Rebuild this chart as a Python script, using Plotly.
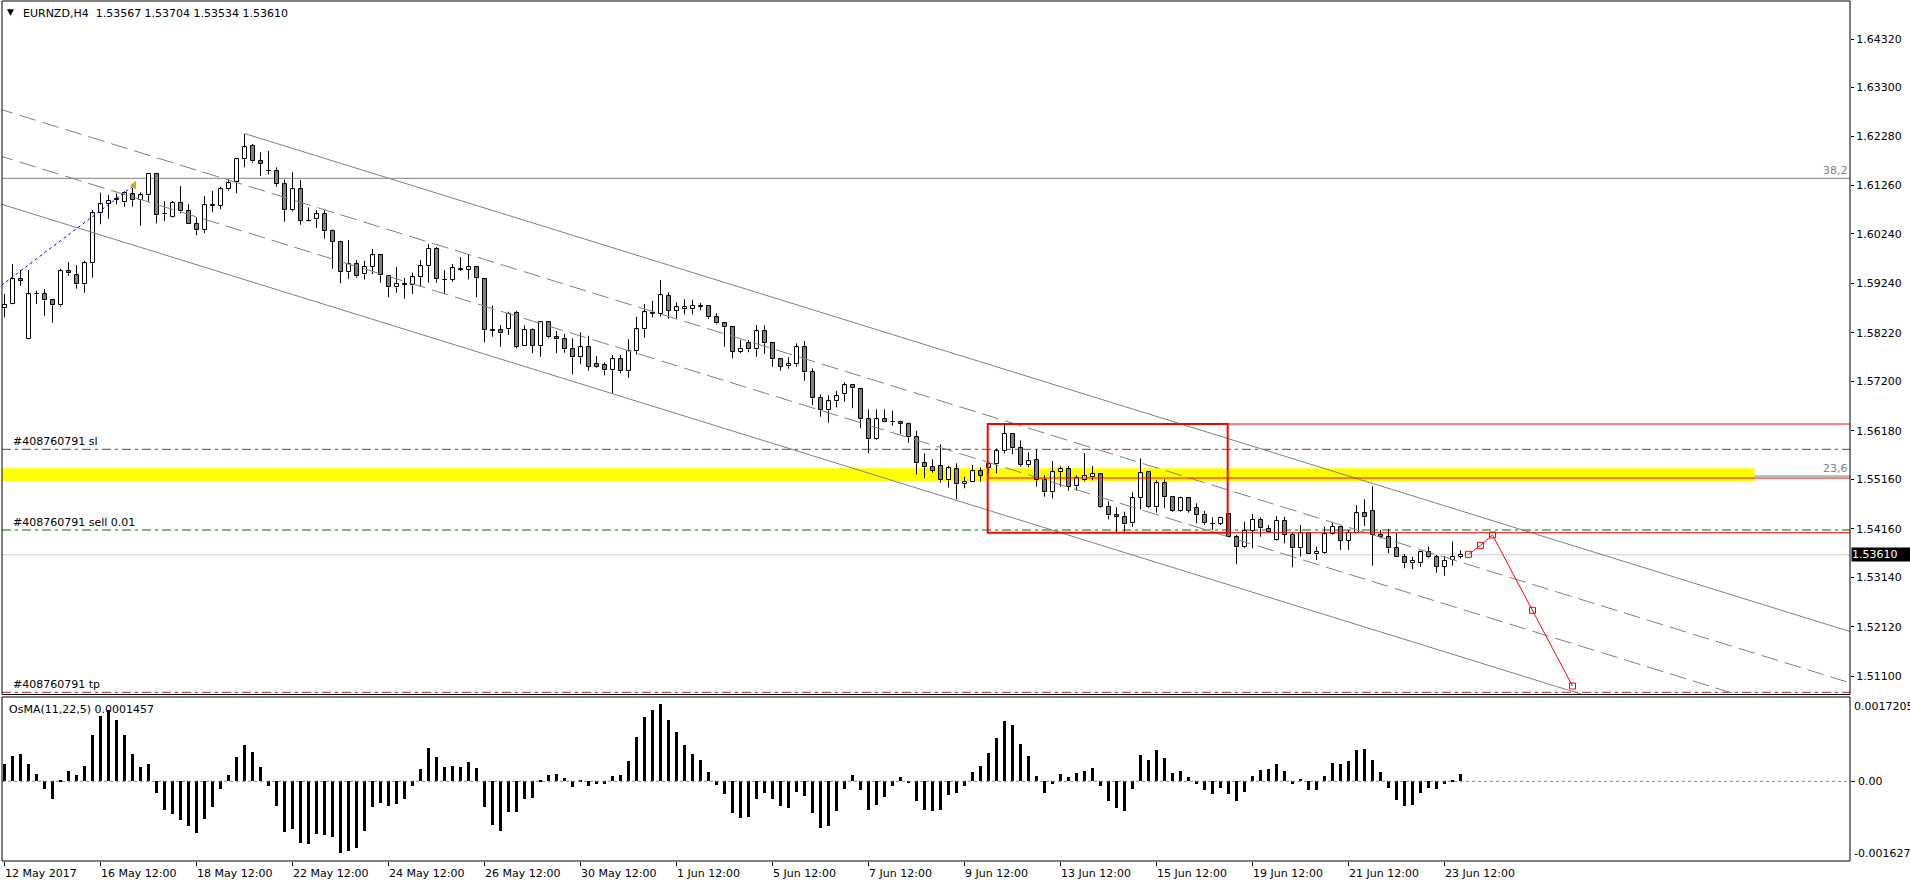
import plotly.graph_objects as go

# ---------------- data ----------------
candle_open = [1.58724,1.58807,1.59326,1.58081,1.59015,1.59015,1.58890,1.58787,1.59493,1.59409,
1.59223,1.59659,1.60697,1.60883,1.60987,1.60925,1.61091,1.60966,1.61070,1.61513,
1.60690,1.60627,1.60911,1.60738,1.60468,1.60344,1.60863,1.60849,1.61195,1.61340,
1.61818,1.62094,1.61776,1.61580,1.61569,1.61299,1.60759,1.61195,1.60544,1.60572,
1.60676,1.60323,1.60095,1.59472,1.59638,1.59430,1.59589,1.59825,1.59396,1.59160,
1.59223,1.59202,1.59368,1.59596,1.59956,1.59320,1.59313,1.59534,1.59520,1.59576,
1.59326,1.58268,1.58268,1.58288,1.58627,1.57942,1.58268,1.57936,1.58434,1.58122,
1.58081,1.57873,1.57707,1.57915,1.57562,1.57541,1.57437,1.57666,1.57417,1.57832,
1.58288,1.58613,1.58613,1.58981,1.58676,1.58704,1.58704,1.58766,1.58773,1.58538,
1.58413,1.58330,1.57825,1.57998,1.57873,1.58247,1.57998,1.57666,1.57520,1.57562,
1.57915,1.57396,1.56856,1.56607,1.56794,1.56939,1.57126,1.57043,1.56420,1.56005,
1.56420,1.56365,1.56358,1.56316,1.56047,1.55507,1.55424,1.55445,1.55154,1.55382,
1.55071,1.55112,1.55341,1.55403,1.55486,1.55756,1.56116,1.55818,1.55465,1.55569,
1.55154,1.54905,1.55320,1.55382,1.55029,1.55154,1.55216,1.55278,1.54607,1.54427,
1.54386,1.54261,1.54780,1.55320,1.54594,1.55092,1.54801,1.54524,1.54781,1.54573,
1.54435,1.54255,1.54248,1.54448,1.53971,1.53763,1.54109,1.54331,1.54144,1.53916,
1.54310,1.54019,1.53743,1.54054,1.53618,1.53639,1.54033,1.54192,1.53902,1.54068,
1.54469,1.54524,1.54019,1.53971,1.53743,1.53570,1.53431,1.53431,1.53660,1.53556,
1.53362,1.53500,1.53567]
candle_high = [1.59022,1.59645,1.59520,1.59520,1.59091,1.59126,1.58895,1.59548,1.59686,1.59624,
1.59714,1.60766,1.61126,1.61077,1.61112,1.61153,1.61229,1.61133,1.61527,1.61540,
1.60946,1.60953,1.61264,1.60883,1.60614,1.61056,1.61160,1.61250,1.61402,1.61838,
1.62344,1.62136,1.61963,1.61991,1.61652,1.61402,1.61548,1.61389,1.60821,1.60766,
1.60766,1.60364,1.60129,1.60143,1.59728,1.59714,1.59956,1.59845,1.59400,1.59583,
1.59354,1.59465,1.59728,1.60060,1.59998,1.59520,1.59645,1.59790,1.59845,1.59596,
1.59347,1.58780,1.58378,1.58655,1.58676,1.58371,1.58309,1.58461,1.58448,1.58254,
1.58192,1.58102,1.58226,1.58157,1.57735,1.57603,1.57756,1.57756,1.58081,1.58551,
1.58814,1.58884,1.59313,1.59057,1.58849,1.58911,1.58904,1.58835,1.58787,1.58621,
1.58427,1.58344,1.58067,1.58067,1.58378,1.58371,1.58012,1.57693,1.57707,1.57998,
1.58046,1.57479,1.56939,1.56918,1.57015,1.57188,1.57130,1.57064,1.56628,1.56628,
1.56628,1.56600,1.56393,1.56351,1.56185,1.55714,1.55590,1.55901,1.55451,1.55507,
1.55230,1.55472,1.55424,1.55507,1.55811,1.56310,1.56137,1.55984,1.55735,1.55797,
1.55258,1.55555,1.55445,1.55451,1.55258,1.55721,1.55451,1.55299,1.54718,1.54593,
1.54503,1.54905,1.55611,1.55341,1.55161,1.55175,1.54815,1.54815,1.54794,1.54677,
1.54518,1.54386,1.54400,1.54469,1.54019,1.54296,1.54455,1.54386,1.54227,1.54414,
1.54400,1.54068,1.54227,1.54068,1.53777,1.54192,1.54275,1.54206,1.54123,1.54642,
1.54760,1.55037,1.54123,1.54137,1.54054,1.53625,1.53570,1.53694,1.53777,1.53604,
1.53583,1.53881,1.53704]
candle_low = [1.58538,1.58800,1.59195,1.58075,1.58814,1.58572,1.58427,1.58759,1.59403,1.59133,
1.59050,1.59361,1.60468,1.60586,1.60883,1.60835,1.60835,1.60441,1.60939,1.60489,
1.60537,1.60614,1.60697,1.60465,1.60240,1.60281,1.60717,1.60780,1.61167,1.61112,
1.61652,1.61748,1.61472,1.61506,1.61250,1.60524,1.60731,1.60461,1.60530,1.60392,
1.60171,1.59548,1.59243,1.59340,1.59361,1.59326,1.59437,1.59257,1.58953,1.59050,
1.58925,1.59022,1.59174,1.59257,1.59257,1.59022,1.59278,1.59499,1.59326,1.58953,
1.58019,1.58136,1.57929,1.58171,1.57894,1.57940,1.57790,1.57721,1.58102,1.57790,
1.57804,1.57354,1.57562,1.57430,1.57493,1.57334,1.56960,1.57375,1.57285,1.57769,
1.58116,1.58538,1.58551,1.58510,1.58510,1.58600,1.58600,1.58690,1.58503,1.58392,
1.57929,1.57686,1.57790,1.57811,1.57721,1.57776,1.57513,1.57431,1.57472,1.57514,
1.57223,1.56718,1.56476,1.56351,1.56669,1.56787,1.56649,1.56233,1.55714,1.55991,
1.56355,1.56289,1.56116,1.55936,1.55278,1.55195,1.55313,1.55105,1.55002,1.54759,
1.54988,1.55110,1.55126,1.55299,1.55299,1.55714,1.55694,1.55438,1.55424,1.55022,
1.54815,1.54780,1.55022,1.54939,1.54939,1.55133,1.55154,1.54587,1.54344,1.54088,
1.54088,1.54192,1.54552,1.54573,1.54483,1.54573,1.54504,1.54504,1.54483,1.54262,
1.54227,1.54123,1.54227,1.53965,1.53410,1.53743,1.53743,1.53985,1.54068,1.53902,
1.53846,1.53348,1.53570,1.53615,1.53500,1.53625,1.54019,1.53708,1.53708,1.54054,
1.54206,1.53383,1.53950,1.53639,1.53556,1.53327,1.53307,1.53362,1.53535,1.53238,
1.53175,1.53383,1.53534]
candle_close = [1.58794,1.59326,1.59299,1.59015,1.59022,1.58890,1.58787,1.59493,1.59451,1.59223,
1.59659,1.60697,1.60883,1.60946,1.60973,1.61112,1.60966,1.61070,1.61513,1.60655,
1.60676,1.60911,1.60738,1.60468,1.60344,1.60863,1.60849,1.61195,1.61319,1.61818,
1.62067,1.61776,1.61721,1.61575,1.61299,1.60759,1.61195,1.60537,1.60537,1.60676,
1.60323,1.60101,1.59472,1.59638,1.59389,1.59589,1.59825,1.59409,1.59160,1.59223,
1.59216,1.59368,1.59596,1.59956,1.59326,1.59313,1.59555,1.59520,1.59576,1.59354,
1.58268,1.58261,1.58205,1.58607,1.57929,1.58268,1.57942,1.58434,1.58122,1.58081,
1.57873,1.57707,1.57915,1.57513,1.57513,1.57437,1.57666,1.57417,1.57832,1.58288,
1.58641,1.58620,1.58994,1.58676,1.58745,1.58745,1.58773,1.58759,1.58538,1.58413,
1.58330,1.57825,1.57880,1.57873,1.58247,1.57998,1.57666,1.57514,1.57562,1.57915,
1.57396,1.56856,1.56607,1.56794,1.56898,1.57126,1.57064,1.56420,1.56005,1.56420,
1.56358,1.56358,1.56316,1.56047,1.55507,1.55424,1.55355,1.55154,1.55403,1.55071,
1.55112,1.55341,1.55244,1.55486,1.55756,1.56116,1.55818,1.55465,1.55548,1.55154,
1.54905,1.55320,1.55382,1.55022,1.55195,1.55237,1.55278,1.54607,1.54427,1.54386,
1.54240,1.54780,1.55299,1.54593,1.55092,1.54801,1.54524,1.54781,1.54524,1.54435,
1.54262,1.54248,1.54372,1.53971,1.53763,1.54109,1.54331,1.54158,1.54089,1.54310,
1.54019,1.53743,1.54054,1.53618,1.53673,1.54033,1.54192,1.53902,1.54068,1.54469,
1.54386,1.54019,1.53971,1.53743,1.53570,1.53431,1.53487,1.53660,1.53556,1.53362,
1.53487,1.53570,1.53610]

osma_values = [0.000356,0.000520,0.000561,0.000356,0.000151,-0.000151,-0.000356,0.000030,0.000212,0.000130,
0.000315,0.000952,0.001342,0.001451,0.001260,0.000952,0.000561,0.000301,0.000356,-0.000233,
-0.000582,-0.000664,-0.000787,-0.000911,-0.001054,-0.000767,-0.000520,-0.000151,0.000130,0.000486,
0.000746,0.000589,0.000301,-0.000096,-0.000500,-0.001034,-0.000972,-0.001260,-0.001280,-0.001075,
-0.001102,-0.001136,-0.001465,-0.001424,-0.001362,-0.001020,-0.000520,-0.000445,-0.000500,-0.000459,
-0.000356,-0.000096,0.000253,0.000685,0.000486,0.000301,0.000315,0.000301,0.000397,0.000274,
-0.000520,-0.000890,-0.001013,-0.000623,-0.000623,-0.000356,-0.000335,0.000027,0.000130,0.000151,
0.000068,-0.000110,0.000020,-0.000103,-0.000048,-0.000062,0.000110,0.000130,0.000418,0.000897,
0.001321,0.001451,0.001568,0.001260,0.001000,0.000746,0.000561,0.000438,0.000192,-0.000068,
-0.000253,-0.000644,-0.000746,-0.000736,-0.000356,-0.000233,-0.000363,-0.000500,-0.000541,-0.000212,
-0.000294,-0.000644,-0.000952,-0.000917,-0.000609,-0.000157,0.000130,-0.000178,-0.000589,-0.000479,
-0.000315,-0.000089,0.000089,-0.000027,-0.000404,-0.000589,-0.000602,-0.000582,-0.000274,-0.000240,
-0.000089,0.000192,0.000315,0.000582,0.000890,0.001225,0.001157,0.000767,0.000520,0.000110,
-0.000233,-0.000055,0.000151,0.000089,0.000171,0.000212,0.000274,-0.000089,-0.000397,-0.000541,
-0.000602,-0.000157,0.000541,0.000438,0.000644,0.000479,0.000171,0.000212,0.000089,-0.000048,
-0.000178,-0.000260,-0.000130,-0.000260,-0.000397,-0.000212,0.000110,0.000233,0.000253,0.000356,
0.000212,-0.000048,0.000048,-0.000171,-0.000178,0.000110,0.000377,0.000356,0.000418,0.000644,
0.000664,0.000438,0.000192,-0.000130,-0.000377,-0.000500,-0.000479,-0.000233,-0.000130,-0.000157,
-0.000055,0.000027,0.0001457]

x_tick_index = [0, 12, 24, 36, 48, 60, 72, 84, 96, 108, 120, 132, 144, 156, 168, 180]
x_tick_labels = ["12 May 2017", "16 May 12:00", "18 May 12:00", "22 May 12:00", "24 May 12:00",
                 "26 May 12:00", "30 May 12:00", "1 Jun 12:00", "5 Jun 12:00", "7 Jun 12:00",
                 "9 Jun 12:00", "13 Jun 12:00", "15 Jun 12:00", "19 Jun 12:00", "21 Jun 12:00",
                 "23 Jun 12:00"]

y_tick_values = [1.64310, 1.63313, 1.62302, 1.61279, 1.60270, 1.59244, 1.58219, 1.57210,
                 1.56184, 1.55175, 1.54150, 1.53141, 1.52115, 1.51092]
y_tick_labels = ["1.64320", "1.63300", "1.62280", "1.61260", "1.60240", "1.59240", "1.58220",
                 "1.57200", "1.56180", "1.55160", "1.54160", "1.53140", "1.52120", "1.51100"]

price_range = [1.50708, 1.65105]
osma_range = [-0.001627, 0.0017205]

fib_382 = 1.61424
fib_236 = 1.55244
zone_low, zone_high, zone_end = 1.55140, 1.55404, 218.75
order_sl, order_open, order_tp = 1.55798, 1.54123, 1.50753
last_price = 1.53610
box_x = [122.9, 152.9]
box_y = [1.54067, 1.56323]
box_mid = 1.55202

upper_channel_x, upper_channel_y = [30, 231], [1.62354, 1.51999]
mid1_channel_x, mid1_channel_y = [-1, 231], [1.62882, 1.50934]
mid2_channel_x, mid2_channel_y = [-1, 231], [1.61912, 1.49963]
lower_channel_x, lower_channel_y = [-1, 231], [1.60918, 1.48969]

trade_x, trade_y = [-0.4, 16.2], [1.5920, 1.6128]
forecast_x = [183, 184.5, 186, 191, 196]
forecast_y = [1.53618, 1.53805, 1.54019, 1.52456, 1.50884]

header_text = "EURNZD,H4\u00a0\u00a01.53567 1.53704 1.53534 1.53610"
osma_text = "OsMA(11,22,5) 0.0001457"
order_id = "#408760791"

# ---------------- figure ----------------
FONT = "DejaVu Sans"
n = len(candle_open)
idx = list(range(n))
XR = [-0.3125, 230.6875]

fig = go.Figure()

# wicks (split so they do not cross the bodies)
wx, wy = [], []
for i in idx:
    o, h, l, c = candle_open[i], candle_high[i], candle_low[i], candle_close[i]
    top, bot = max(o, c), min(o, c)
    wx += [i, i, None, i, i, None]
    wy += [h, top, None, bot, l, None]
fig.add_trace(go.Scatter(x=wx, y=wy, mode="lines", line=dict(color="black", width=1),
                         hoverinfo="skip", yaxis="y"))

body_base = [min(candle_open[i], candle_close[i]) for i in idx]
body_h = [abs(candle_close[i] - candle_open[i]) for i in idx]
body_col = ["#ffffff" if candle_close[i] >= candle_open[i] else "#808080" for i in idx]
fig.add_trace(go.Bar(x=idx, y=body_h, base=body_base, width=0.5,
                     marker=dict(color=body_col, line=dict(color="black", width=1)),
                     hoverinfo="skip", yaxis="y"))

# OsMA histogram
fig.add_trace(go.Bar(x=idx, y=osma_values, width=0.3, marker=dict(color="black", line=dict(width=0)),
                     hoverinfo="skip", yaxis="y2"))

# channel lines
fig.add_trace(go.Scatter(x=upper_channel_x, y=upper_channel_y, mode="lines",
                         line=dict(color="#808080", width=1), hoverinfo="skip", yaxis="y"))
fig.add_trace(go.Scatter(x=lower_channel_x, y=lower_channel_y, mode="lines",
                         line=dict(color="#808080", width=1), hoverinfo="skip", yaxis="y"))
fig.add_trace(go.Scatter(x=mid1_channel_x, y=mid1_channel_y, mode="lines",
                         line=dict(color="#808080", width=1, dash="17px,7px"), hoverinfo="skip", yaxis="y"))
fig.add_trace(go.Scatter(x=mid2_channel_x, y=mid2_channel_y, mode="lines",
                         line=dict(color="#808080", width=1, dash="17px,7px"), hoverinfo="skip", yaxis="y"))

# trade history line
fig.add_trace(go.Scatter(x=trade_x, y=trade_y, mode="lines",
                         line=dict(color="#0000ff", width=1, dash="dot"), hoverinfo="skip", yaxis="y"))
fig.add_trace(go.Scatter(x=trade_x[-1:], y=trade_y[-1:], mode="markers",
                         marker=dict(symbol="triangle-left", size=8, color="#DAA520"),
                         hoverinfo="skip", yaxis="y"))

# forecast path
fig.add_trace(go.Scatter(x=forecast_x, y=forecast_y, mode="lines+markers",
                         line=dict(color="#ff0000", width=1),
                         marker=dict(symbol="square-open", size=6, color="#ff0000", line=dict(width=1)),
                         hoverinfo="skip", yaxis="y"))

shapes = []
# yellow zone
shapes.append(dict(type="rect", xref="x", yref="y", x0=XR[0], x1=zone_end, y0=zone_low, y1=zone_high,
                   fillcolor="#ffff00", line=dict(width=0), layer="below"))
# full-width levels
def hline(y, color, dash="solid", width=1, x0=0, x1=1, xref="x domain", layer="below"):
    shapes.append(dict(type="line", xref=xref, yref="y", x0=x0, x1=x1, y0=y, y1=y,
                       line=dict(color=color, width=width, dash=dash), layer=layer))

hline(last_price, "#d0d0d0")
hline(fib_382, "#808080")
hline(fib_236, "#808080")
DD = "9px,4px,3px,4px"
hline(order_sl, "#a52a2a", DD)
hline(order_open, "#007000", DD)
hline(order_tp, "#a52a2a", DD)
# red box and its extensions
shapes.append(dict(type="rect", xref="x", yref="y", x0=box_x[0], x1=box_x[1], y0=box_y[0], y1=box_y[1],
                   line=dict(color="#ff0000", width=2), layer="above"))
hline(box_y[1], "#ff0000", x0=box_x[1], x1=XR[1], xref="x", layer="above")
hline(box_y[0], "#ff0000", x0=box_x[1], x1=XR[1], xref="x", layer="above")
hline(box_mid, "#ff0000", x0=box_x[0], x1=XR[1], xref="x", layer="above")
# zero line of OsMA
shapes.append(dict(type="line", xref="x domain", yref="y2", x0=0, x1=1, y0=0, y1=0,
                   line=dict(color="#808080", width=1, dash="3px,3px"), layer="above"))
# frames
D_MAIN = [0.1936, 1.0]
D_OSC = [0.0, 0.1907]
shapes.append(dict(type="rect", xref="paper", yref="paper", x0=0, x1=1, y0=D_MAIN[0], y1=D_MAIN[1],
                   line=dict(color="black", width=1), layer="above"))
shapes.append(dict(type="rect", xref="paper", yref="paper", x0=0, x1=1, y0=D_OSC[0], y1=D_OSC[1],
                   line=dict(color="black", width=1), layer="above"))

ann = []
f11 = dict(family=FONT, size=11, color="black")
ann.append(dict(xref="paper", yref="paper", x=0, y=1, xanchor="left", yanchor="top", xshift=3, yshift=-4,
                text="\u25bc", showarrow=False, font=dict(family=FONT, size=9, color="black")))
ann.append(dict(xref="paper", yref="paper", x=0, y=1, xanchor="left", yanchor="top", xshift=19, yshift=-4,
                text=header_text, showarrow=False, font=f11))
ann.append(dict(xref="paper", yref="paper", x=0, y=D_OSC[1], xanchor="left", yanchor="top", xshift=5, yshift=-4,
                text=osma_text, showarrow=False, font=f11))
for lvl, txt in [(order_sl, order_id + " sl"), (order_open, order_id + " sell 0.01"), (order_tp, order_id + " tp")]:
    ann.append(dict(xref="paper", yref="y", x=0, y=lvl, xanchor="left", yanchor="bottom", xshift=9, yshift=-1,
                    text=txt, showarrow=False, font=f11))
for lvl, txt in [(fib_382, "38,2"), (fib_236, "23,6")]:
    ann.append(dict(xref="paper", yref="y", x=1, y=lvl, xanchor="right", yanchor="bottom", xshift=0, yshift=-1,
                    text=txt, showarrow=False, font=dict(family=FONT, size=11, color="#808080")))
ann.append(dict(xref="paper", yref="y", x=1, y=last_price, xanchor="left", yanchor="middle", xshift=1,
                text="1.53610", showarrow=False, font=dict(family=FONT, size=11, color="white"),
                bgcolor="black", borderpad=0, width=58, align="left"))
for txt, yy, yr in [("0.0017205", 0.9409, "y2 domain"), ("-0.001627", 0.047, "y2 domain")]:
    ann.append(dict(xref="paper", yref=yr, x=1, y=yy, xanchor="left", yanchor="middle", xshift=2,
                    text=txt, showarrow=False, font=f11))
ann.append(dict(xref="paper", yref="y2", x=1, y=0, xanchor="left", yanchor="middle", xshift=6,
                text="0.00", showarrow=False, font=f11))
for i, t in zip(x_tick_index, x_tick_labels):
    ann.append(dict(xref="x", yref="paper", x=i, y=0, xanchor="left", yanchor="middle", xshift=-2, yshift=-12,
                    text=t, showarrow=False, font=f11))

fig.update_layout(
    width=1910, height=884,
    margin=dict(l=2, r=60, t=1, b=23),
    paper_bgcolor="white", plot_bgcolor="white",
    showlegend=False, barmode="overlay", bargap=0,
    font=dict(family=FONT, size=11, color="black"),
    xaxis=dict(range=XR, domain=[0, 1], anchor="y2", showgrid=False, zeroline=False, showline=False,
               tickvals=x_tick_index, ticks="outside", ticklen=4, tickcolor="black", showticklabels=False),
    yaxis=dict(domain=D_MAIN, range=price_range, side="right", anchor="x", showgrid=False, zeroline=False,
               showline=False, tickvals=y_tick_values, ticktext=y_tick_labels, ticks="outside",
               ticklen=3, tickcolor="black", tickfont=f11),
    yaxis2=dict(domain=D_OSC, range=osma_range, side="right", anchor="x", showgrid=False, zeroline=False,
                showline=False, tickvals=[0], ticks="outside", ticklen=4, tickcolor="black",
                showticklabels=False),
    shapes=shapes, annotations=ann,
)

fig.write_html("out.html")
